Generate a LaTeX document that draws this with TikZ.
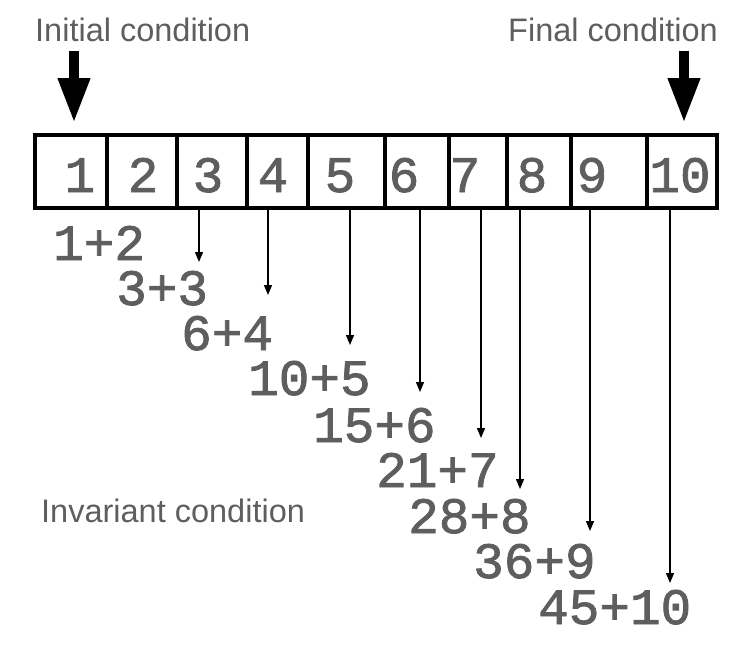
\documentclass[tikz,border=0pt]{standalone}
\usepackage{fontspec}
\setmainfont{Liberation Sans}
\newfontfamily\monof[FakeBold=1.6]{Liberation Mono}
\usetikzlibrary{arrows.meta}
\definecolor{txtgray}{HTML}{5E5E5E}
\begin{document}
\begin{tikzpicture}[x=1pt,y=-1pt,
  cell/.style={draw=black, line width=4pt, minimum height=73pt, inner sep=0pt},
  num/.style={font=\monof\fontsize{51}{51}\selectfont, text=txtgray, inner sep=0pt, anchor=base},
  sumlbl/.style={font=\monof\fontsize{51}{51}\selectfont, text=txtgray, inner sep=0pt, anchor=base west},
  cond/.style={font=\fontsize{32.5}{32.5}\selectfont, text=txtgray, inner sep=0pt},
  bigarrow/.style={line width=10pt, -{Triangle[width=30pt,length=45pt]}},
  smallarrow/.style={line width=1.4pt, -{Triangle[width=8pt,length=10pt]}}]
\useasboundingbox (0,0) rectangle (743,645);
% cells
\node[cell, minimum width=72pt] (c1) at (71,171.5) {};
\node[cell, minimum width=70pt] (c2) at (142,171.5) {};
\node[cell, minimum width=70pt] (c3) at (212,171.5) {};
\node[cell, minimum width=61pt] (c4) at (277.5,171.5) {};
\node[cell, minimum width=77pt] (c5) at (346.5,171.5) {};
\node[cell, minimum width=64pt] (c6) at (417,171.5) {};
\node[cell, minimum width=58pt] (c7) at (478,171.5) {};
\node[cell, minimum width=64pt] (c8) at (539,171.5) {};
\node[cell, minimum width=76pt] (c9) at (609,171.5) {};
\node[cell, minimum width=70pt] (c10) at (682,171.5) {};
% numbers
\node[num] (n1) at (80,192) {1};
\node[num] (n2) at (143,192) {2};
\node[num] (n3) at (208,192) {3};
\node[num] (n4) at (273,192) {4};
\node[num] (n5) at (340,192) {5};
\node[num] (n6) at (404,192) {6};
\node[num] (n7) at (465,192) {7};
\node[num] (n8) at (532,192) {8};
\node[num] (n9) at (592,192) {9};
\node[num] (n10) at (680,192) {10};
% sums
\node[sumlbl] (s1) at (53,260) {1+2};
\node[sumlbl] (s2) at (116,305) {3+3};
\node[sumlbl] (s3) at (181,350) {6+4};
\node[sumlbl] (s4) at (248,395) {10+5};
\node[sumlbl] (s5) at (313,442) {15+6};
\node[sumlbl] (s6) at (376,487) {21+7};
\node[sumlbl] (s7) at (408,533) {28+8};
\node[sumlbl] (s8) at (473,578) {36+9};
\node[sumlbl] (s9) at (538,624) {45+10};
% labels
\node[cond, anchor=base west] (init) at (35,41) {Initial condition};
\node[cond, anchor=base east] (final) at (718,41) {Final condition};
\node[cond, anchor=base west] (inv) at (41,522) {Invariant condition};
% big arrows
\coordinate (b1) at (74,51);
\coordinate (t1) at (74,123);
\coordinate (b10) at (684,51);
\coordinate (t10) at (684,123);
\draw[bigarrow] (b1) -- (t1);
\draw[bigarrow] (b10) -- (t10);
% small arrows
\coordinate (e3) at (199,262);
\coordinate (e4) at (268,295);
\coordinate (e5) at (350,345);
\coordinate (e6) at (420,392);
\coordinate (e7) at (481,438);
\coordinate (e8) at (520,489);
\coordinate (e9) at (590,531);
\coordinate (e10) at (670,583);
\draw[smallarrow] (c3.south -| e3) -- (e3);
\draw[smallarrow] (c4.south -| e4) -- (e4);
\draw[smallarrow] (c5.south -| e5) -- (e5);
\draw[smallarrow] (c6.south -| e6) -- (e6);
\draw[smallarrow] (c7.south -| e7) -- (e7);
\draw[smallarrow] (c8.south -| e8) -- (e8);
\draw[smallarrow] (c9.south -| e9) -- (e9);
\draw[smallarrow] (c10.south -| e10) -- (e10);
\end{tikzpicture}
\end{document}
